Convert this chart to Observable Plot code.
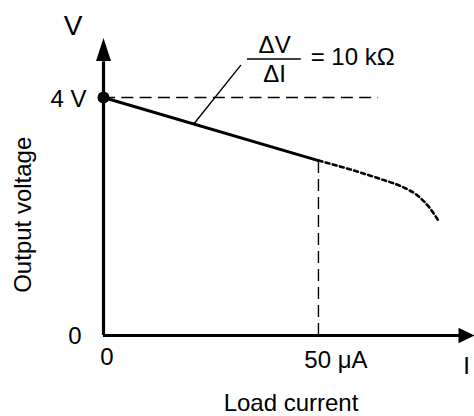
<!DOCTYPE html>
<html><head><meta charset="utf-8">
<script src="https://cdn.jsdelivr.net/npm/d3@7"></script>
<script src="https://cdn.jsdelivr.net/npm/@observablehq/plot@0.6"></script>
<style>html,body{margin:0;padding:0;background:#fff}#chart svg{display:block}</style>
</head><body><div id="chart"></div>
<script>
// Linear (Thevenin) region of the output characteristic
const linearCurrentUA = [0, 50];
const linearVoltageV = [4, 2.94];
// Beyond the rated current (dotted part)
const dottedCurrentUA = [50, 57.44, 64.42, 69.77, 73.26, 75.81, 77.91];
const dottedVoltageV = [2.94, 2.79, 2.63, 2.49, 2.34, 2.15, 1.93];
// Axis extent (arrow tips)
const axisMaxCurrentUA = 86.3;
const axisMaxVoltageV = 5;
// Tick labels
const yTickLabels = ["0", "4 V"];
const xTickLabels = ["0", "50 μA"];
const axisNames = ["V", "I"];
const axisTitles = ["Output voltage", "Load current"];
// Slope annotation
const leaderCurrentUA = [21, 31.9];
const leaderVoltageV = [3.555, 4.54];
const annotationParts = ["ΔV", "ΔI", "= 10 kΩ"];

const linear = linearCurrentUA.map((I, i) => ({I, V: linearVoltageV[i]}));
const dotted = dottedCurrentUA.map((I, i) => ({I, V: dottedVoltageV[i]}));
const leader = leaderCurrentUA.map((I, i) => ({I, V: leaderVoltageV[i]}));
const leaderEnd = leader[1];

const arrowUp = {draw(c) { c.moveTo(0, 0); c.lineTo(7.5, 23); c.lineTo(-7.5, 23); c.closePath(); }};
const arrowRight = {draw(c) { c.moveTo(0, 0); c.lineTo(-16, -7.7); c.lineTo(-16, 7.7); c.closePath(); }};

const font = "'Liberation Sans', Arial, Helvetica, sans-serif";
const T = (data, o) => Plot.text(data, {fontSize: 24, fill: "black", lineAnchor: "middle", ...o});

const chart = Plot.plot({
  width: 474, height: 416,
  marginTop: 37.5, marginBottom: 81, marginLeft: 103, marginRight: 0,
  style: {fontFamily: font, background: "white", color: "black", overflow: "visible"},
  x: {domain: [0, axisMaxCurrentUA], axis: null},
  y: {domain: [0, axisMaxVoltageV], axis: null},
  marks: [
    // dashed guides
    Plot.ruleY([linearVoltageV[0]], {x1: 0, x2: 64, stroke: "black", strokeWidth: 1.4, strokeDasharray: "12,6.3"}),
    Plot.ruleX([linearCurrentUA[1]], {y1: 0, y2: linearVoltageV[1], stroke: "black", strokeWidth: 1.4, strokeDasharray: "12,6"}),
    // axes
    Plot.ruleX([0], {y1: 0, y2: axisMaxVoltageV * 0.92, stroke: "black", strokeWidth: 3.2}),
    Plot.ruleY([0], {x1: 0, x2: axisMaxCurrentUA * 0.96, stroke: "black", strokeWidth: 3.2}),
    Plot.dot([{I: 0, V: axisMaxVoltageV}], {x: "I", y: "V", symbol: arrowUp, fill: "black", stroke: "none"}),
    Plot.dot([{I: axisMaxCurrentUA, V: 0}], {x: "I", y: "V", symbol: arrowRight, fill: "black", stroke: "none"}),
    // characteristic
    Plot.line(dotted, {x: "I", y: "V", curve: "monotone-x", stroke: "black", strokeWidth: 2.6, strokeDasharray: "4,3.4"}),
    Plot.line(linear, {x: "I", y: "V", stroke: "black", strokeWidth: 3}),
    Plot.dot([linear[0]], {x: "I", y: "V", r: 6, fill: "black", stroke: "none"}),
    // slope annotation
    Plot.line(leader, {x: "I", y: "V", stroke: "black", strokeWidth: 1.4}),
    Plot.ruleY([4.647], {x1: 33.5, x2: 46.0, stroke: "black", strokeWidth: 1.5}),
    T([leaderEnd], {x: "I", y: "V", text: () => annotationParts[0], dx: 34, dy: -20, textAnchor: "middle"}),
    T([leaderEnd], {x: "I", y: "V", text: () => annotationParts[1], dx: 34, dy: 9, textAnchor: "middle"}),
    T([leaderEnd], {x: "I", y: "V", text: () => annotationParts[2], dx: 70, dy: -8, textAnchor: "start"}),
    // tick labels
    T([0], {x: 0, y: 0, text: () => yTickLabels[0], dx: -22, dy: 1, textAnchor: "end"}),
    T([4], {x: 0, y: 4, text: () => yTickLabels[1], dx: -17, dy: 2, textAnchor: "end"}),
    T([0], {x: 0, y: 0, text: () => xTickLabels[0], dx: 3.5, dy: 22, textAnchor: "middle"}),
    T([50], {x: 50, y: 0, text: () => xTickLabels[1], dx: 17.5, dy: 25, textAnchor: "middle"}),
    // axis names
    T([0], {x: 0, y: axisMaxVoltageV, text: () => axisNames[0], fontSize: 28, dx: -30.5, dy: -11.5, textAnchor: "middle"}),
    T([0], {x: axisMaxCurrentUA, y: 0, text: () => axisNames[1], dx: -8, dy: 31, textAnchor: "middle"}),
    // axis titles
    T([0], {frameAnchor: "left", text: () => axisTitles[0], rotate: -90, dx: -80, dy: 28, textAnchor: "middle"}),
    T([0], {frameAnchor: "bottom", text: () => axisTitles[1], dx: 2, dy: 67.5, textAnchor: "middle"})
  ]
});
document.getElementById("chart").appendChild(chart);
</script>
</body></html>
